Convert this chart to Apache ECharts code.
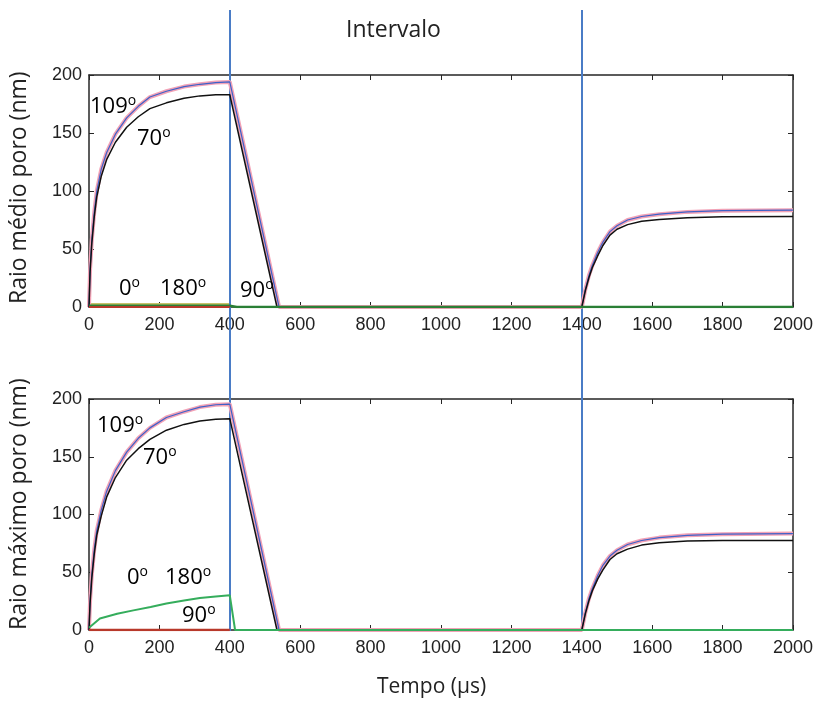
<!DOCTYPE html>
<html>
<head>
<meta charset="utf-8">
<script src="https://cdn.jsdelivr.net/npm/echarts@6/dist/echarts.min.js"></script>
<style>
html,body{margin:0;padding:0;background:#fff;}
#c{width:819px;height:710px;}
</style>
</head>
<body>
<div id="c"></div>
<script>
// ---- data ----
const xTicks = [0, 200, 400, 600, 800, 1000, 1200, 1400, 1600, 1800, 2000];
const yTicks = [0, 50, 100, 150, 200];
const intervalMarks = [400, 1400];

const timeBlue  = [0,3,8,15,22,35,50,75,107,140,173,220,270,315,360,400,540,1400,1410,1420,1430,1445,1460,1480,1500,1530,1570,1620,1700,1800,2000];
const timeBlack = [0,3,8,15,22,35,50,75,107,140,173,220,270,315,360,400,534,1400,1410,1420,1430,1445,1460,1480,1500,1530,1570,1620,1700,1800,2000];

const topBlue109  = [0,32,58,82,100,119,133,149,163,173,181,186,190,192,193.5,194,0,0,15,27,36,47,56,65,70,75,78,80,82,83,83.5];
const topBlack70  = [0,30,55,78,95,113,127,142,155,164,171,176,180,182,183,183,0,0,14,25,34,44,53,62,67,71,74,75.5,77,77.8,78];
const botBlue109  = [0,25,48,70,86,104,120,138,154,166,175,184,189,193,195,195.5,0,0,15,27,36,47,56,64,69,74,77.5,80,82,83,83.5];
const botBlack70  = [0,23,45,66,82,99,115,132,147,157,165,173,178,181,182.5,183,0,0,14,25,34,44,52,61,66,70,73.5,75.5,77,77.5,77.5];

const timeLow    = [0, 400];
const topRed0    = [0, 0];
const topOlive180= [2.5, 2.5];
const timeGreenTop = [0, 400, 420, 2000];
const topGreen90 = [1, 1, 0, 0];

const timeGreenBot = [0,31,80,126,175,220,270,315,360,400,415,2000];
const botGreen   = [2,10,14,17,20,23,25.5,27.7,29,30,0,0];
const botRed     = [0, 0];

const zip = (t, v) => t.map((x, i) => [x, v[i]]);

// ---- chart ----
const chart = echarts.init(document.getElementById('c'), null, {renderer: 'canvas'});
const FRAME = '#262626';
const tickFont = {fontFamily: 'Liberation Sans', fontSize: 18, color: '#222', formatter: v => String(v)};

function xAxes(gi) {
  return [
    {gridIndex: gi, type: 'value', min: 0, max: 2000, interval: 200, position: 'bottom',
     axisLine: {show: true, onZero: false, lineStyle: {color: FRAME, width: 1.5}},
     axisTick: {show: true, inside: true, length: 5, lineStyle: {color: FRAME}},
     axisLabel: Object.assign({margin: 9}, tickFont),
     splitLine: {show: false}},
    {gridIndex: gi, type: 'value', min: 0, max: 2000, interval: 200, position: 'top',
     axisLine: {show: true, onZero: false, lineStyle: {color: FRAME, width: 1.5}},
     axisTick: {show: true, inside: true, length: 5, lineStyle: {color: FRAME}},
     axisLabel: {show: false}, splitLine: {show: false}}
  ];
}
function yAxes(gi) {
  return [
    {gridIndex: gi, type: 'value', min: 0, max: 200, interval: 50, position: 'left',
     axisLine: {show: true, onZero: false, lineStyle: {color: FRAME, width: 1.5}},
     axisTick: {show: true, inside: true, length: 5, lineStyle: {color: FRAME}},
     axisLabel: Object.assign({margin: 7}, tickFont),
     splitLine: {show: false}},
    {gridIndex: gi, type: 'value', min: 0, max: 200, interval: 50, position: 'right',
     axisLine: {show: true, onZero: false, lineStyle: {color: FRAME, width: 1.5}},
     axisTick: {show: true, inside: true, length: 5, lineStyle: {color: FRAME}},
     axisLabel: {show: false}, splitLine: {show: false}}
  ];
}

function line(xi, yi, data, color, width, z) {
  return {type: 'line', xAxisIndex: xi, yAxisIndex: yi, data: data, showSymbol: false,
          symbol: 'none', lineStyle: {color: color, width: width}, z: z, silent: true};
}

const PINK = '#f2a2b6', BLUE = '#3d62c9', BLACK = '#111111', GREEN = '#35ad5c',
      DGREEN = '#2a7f35', RED = '#b8392b', OLIVE = '#c9c26a';

const series = [
  // top plot (x 0, y 0)
  line(0, 0, zip(timeLow, topOlive180), OLIVE, 2, 2),
  line(0, 0, zip(timeBlue, topBlue109), PINK, 4, 5),
  line(0, 0, zip(timeBlue, topBlue109), BLUE, 1.2, 6),
  line(0, 0, zip(timeBlack, topBlack70), BLACK, 1.5, 7),
  line(0, 0, zip(timeGreenTop, topGreen90), DGREEN, 2.5, 8),
  line(0, 0, zip(timeLow, topRed0), RED, 2, 9),
  // bottom plot (x 2, y 2)
  line(2, 2, zip(timeBlue, botBlue109), PINK, 4, 5),
  line(2, 2, zip(timeBlue, botBlue109), BLUE, 1.2, 6),
  line(2, 2, zip(timeBlack, botBlack70), BLACK, 1.5, 7),
  line(2, 2, zip(timeGreenBot, botGreen), GREEN, 2, 8),
  line(2, 2, zip(timeLow, botRed), RED, 2.5, 9),
  // interval lines overlay (x 4, y 4)
  {type: 'line', xAxisIndex: 4, yAxisIndex: 4, data: [], silent: true, z: 10,
   markLine: {silent: true, symbol: ['none', 'none'], label: {show: false},
              lineStyle: {color: '#4a7cc6', width: 2, type: 'solid'},
              data: intervalMarks.map(v => ({xAxis: v}))}}
];

const annFont = 'Open Sans';
function ann(text, x, y) {
  return {type: 'text', left: x, top: y, z: 100,
    style: {text: '{a|' + text + '}{s|o}', font: '22px "' + annFont + '"',
      rich: {a: {fontFamily: annFont, fontSize: 22, color: '#1a1a1a', lineHeight: 26},
             s: {fontFamily: annFont, fontSize: 14, color: '#1a1a1a', verticalAlign: 'top', lineHeight: 26, padding: [0,0,10,0]}}}};
}

chart.setOption({
  animation: false,
  backgroundColor: '#ffffff',
  grid: [
    {left: 89, right: 26, top: 75, height: 232},
    {left: 89, right: 26, top: 399, height: 231},
    {left: 89, right: 26, top: 10, height: 621}
  ],
  xAxis: [
    ...xAxes(0), ...xAxes(1),
    {gridIndex: 2, type: 'value', min: 0, max: 2000, show: false},
  ],
  yAxis: [
    ...yAxes(0), ...yAxes(1),
    {gridIndex: 2, type: 'value', min: 0, max: 1, show: false},
  ],
  series: series,
  graphic: [
    {type: 'text', left: 346, top: 19, style: {text: 'Intervalo', font: '23px "Open Sans"', fill: '#222'}},
    {type: 'text', left: 377, top: 677, style: {text: 'Tempo (µs)', font: '21px "Open Sans"', fill: '#222'}},
    {type: 'text', x: 8, y: 304, rotation: Math.PI / 2, z: 100,
     style: {text: 'Raio médio poro (nm)', font: '23px "Open Sans"', fill: '#222', textAlign: 'left', textVerticalAlign: 'top'}},
    {type: 'text', x: 8, y: 630, rotation: Math.PI / 2, z: 100,
     style: {text: 'Raio máximo poro (nm)', font: '23px "Open Sans"', fill: '#222', textAlign: 'left', textVerticalAlign: 'top'}},
    ann('109', 90, 94),
    ann('70', 137, 126),
    ann('0', 119, 276),
    ann('180', 160, 276),
    ann('90', 240, 278),
    ann('109', 97, 413),
    ann('70', 143, 445),
    ann('0', 127, 565),
    ann('180', 165, 565),
    ann('90', 182, 603)
  ]
});
</script>
</body>
</html>
